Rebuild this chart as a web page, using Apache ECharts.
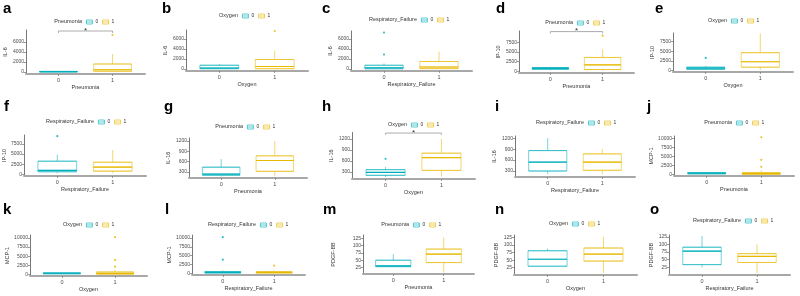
<!DOCTYPE html>
<html>
<head>
<meta charset="utf-8">
<script src="https://cdn.jsdelivr.net/npm/echarts@6/dist/echarts.min.js"></script>
<style>
  html, body { margin: 0; padding: 0; background: #fff; }
  #main { width: 800px; height: 296px; }
</style>
</head>
<body>
<div id="main"></div>
<script>
// ---- data ----
var panelLetters = ['a', 'b', 'c', 'd', 'e', 'f', 'g', 'h', 'i', 'j', 'k', 'l', 'm', 'n', 'o'];
var groupVars = ['Pneumonia', 'Oxygen', 'Respiratory_Failure'];
var markerNames = ['IL-6', 'IL-6', 'IL-6', 'IP-10', 'IP-10', 'IP-10', 'IL-16', 'IL-16', 'IL-16',
                   'MCP-1', 'MCP-1', 'MCP-1', 'PDGF-BB', 'PDGF-BB', 'PDGF-BB'];
var groupLevels = ['0', '1'];

// [min, Q1, median, Q3, max] for group 0 / group 1
var stats0 = [
  [0, 20, 60, 120, 250],
  [0, 60, 200, 750, 1000],
  [0, 50, 250, 750, 1100],
  [300, 550, 800, 1000, 1200],
  [150, 300, 600, 850, 1200],
  [300, 650, 980, 3250, 4900],
  [170, 205, 240, 440, 675],
  [165, 210, 290, 365, 435],
  [220, 300, 545, 860, 1200],
  [50, 200, 380, 500, 700],
  [100, 200, 350, 450, 600],
  [0, 150, 350, 550, 900],
  [27, 28, 31, 50, 71],
  [28, 30, 53, 81, 88],
  [25, 34, 78, 91, 128]
];
var stats1 = [
  [0, 150, 450, 1600, 3600],
  [0, 60, 500, 1900, 3700],
  [0, 80, 400, 1500, 3500],
  [100, 500, 1700, 3600, 5700],
  [100, 850, 2250, 4600, 9600],
  [300, 800, 1800, 3000, 6000],
  [190, 320, 635, 770, 1200],
  [180, 345, 695, 815, 1200],
  [210, 320, 545, 770, 900],
  [0, 100, 250, 550, 1200],
  [0, 100, 300, 700, 1300],
  [0, 150, 350, 500, 900],
  [8, 42, 71, 88, 128],
  [7, 47, 70, 90, 127],
  [6, 41, 61, 70, 100]
];
var outliers0 = [[], [], [7300, 2900], [], [3250], [9400], [], [660], [], [], [], [10200, 3900], [], [], []];
var outliers1 = [[7400], [7600], [], [9200], [], [], [], [], [], [10400, 4100, 2150], [10200, 4000, 2140], [2200], [], [], []];

var yTicks = [
  [0, 2000, 4000, 6000], [0, 2000, 4000, 6000], [0, 2000, 4000, 6000],
  [0, 2500, 5000, 7500], [0, 2500, 5000, 7500], [0, 2500, 5000, 7500],
  [300, 600, 900, 1200], [300, 600, 900, 1200], [300, 600, 900, 1200],
  [0, 2500, 5000, 7500, 10000], [0, 2500, 5000, 7500, 10000], [0, 2500, 5000, 7500, 10000],
  [25, 50, 75, 100, 125], [25, 50, 75, 100, 125], [25, 50, 75, 100, 125]
];
var yRanges = [
  [-400, 8400], [-400, 7800], [-400, 7600],
  [-400, 10400], [-400, 9700], [-400, 9700],
  [125, 1290], [110, 1380], [136, 1260],
  [-400, 10750], [-400, 10800], [-400, 10800],
  [3, 136], [1, 133], [0, 131]
];
// significance bracket: [bracket level, end-tick level]
var sigBrackets = [[8200, 7800], null, null, [10250, 9750], null, null, null, [1365, 1320], null,
                   null, null, null, null, null, null];
var sigLabel = '*';

// ---- layout (pixels) ----
// plot area edges: [left, top, right, bottom]
var plotBoxes = [
  [26, 30, 145, 74], [186, 30, 308, 71], [351, 31, 472, 71], [519, 31, 634, 73], [673, 33, 793, 72],
  [24, 135, 146, 176], [189, 138, 307, 178], [352, 132.5, 475, 179], [515, 136, 635, 177], [674, 136, 794, 176],
  [30, 235, 147, 276], [192, 235, 305, 275], [363, 235, 474, 274], [514, 235, 637, 275], [669, 235, 790, 275]
];
var letterPos = [
  [3, 1], [162, 1], [322, 1], [496, 1], [655, 1],
  [4, 99], [164, 99], [322, 99], [495, 99], [647, 99],
  [3, 202], [165, 202], [323, 202], [495, 202], [650, 202]
];
// legend: [x where title ends / keys start, center y]
var legendPos = [
  [84, 22], [240, 16], [419, 20], [575, 23], [729, 21],
  [96, 122], [245, 127], [409, 125], [586, 123], [734, 123],
  [84, 225], [258, 225], [411, 225], [570, 224], [743, 221]
];
var yNameGap = [15, 17, 17, 17, 14, 15, 16, 16, 16, 12, 18, 18, 27, 14, 14];

var colors = ['#00AFBB', '#E7B800'];
var edgeColors = ['rgba(0,175,187,0.55)', 'rgba(231,184,0,0.55)'];
var boxIcon = 'path://M0,0H12V8H0Z M0,4H12';
var fontFamily = '"Liberation Sans", Arial, sans-serif';

var chart = echarts.init(document.getElementById('main'));

var option = {
  animation: false,
  textStyle: { fontFamily: fontFamily },
  title: [],
  legend: [],
  grid: [],
  xAxis: [],
  yAxis: [],
  series: []
};

function segment(i, p, q, color, width, z) {
  return {
    type: 'line', xAxisIndex: i, yAxisIndex: i, silent: true, symbol: 'none', clip: false, z: z,
    lineStyle: { color: color, width: width },
    data: [p, q]
  };
}

for (var i = 0; i < 15; i++) {
  var pb = plotBoxes[i];
  option.grid.push({ left: pb[0], top: pb[1], width: pb[2] - pb[0], height: pb[3] - pb[1] });

  option.xAxis.push({
    gridIndex: i, type: 'value', min: -0.6, max: 1.6,
    name: groupVars[i % 3], nameLocation: 'middle', nameGap: 10,
    nameTextStyle: { fontSize: 5.5, color: '#333' },
    axisLine: { show: true, onZero: false, lineStyle: { color: '#a8a8a8', width: 2 } },
    axisTick: { show: true, customValues: [0, 1], length: 2, lineStyle: { color: '#666', width: 0.6 } },
    axisLabel: { customValues: [0, 1], fontSize: 5.5, color: '#4d4d4d', margin: 3,
                 formatter: function (v) { return String(v); } },
    splitLine: { show: false }
  });
  option.yAxis.push({
    gridIndex: i, type: 'value', min: yRanges[i][0], max: yRanges[i][1],
    name: markerNames[i], nameLocation: 'middle', nameGap: yNameGap[i], nameRotate: 90,
    nameTextStyle: { fontSize: 5.5, color: '#333' },
    axisLine: { show: true, onZero: false, lineStyle: { color: '#555', width: 0.8 } },
    axisTick: { show: true, customValues: yTicks[i], length: 2, lineStyle: { color: '#555', width: 0.6 } },
    axisLabel: { customValues: yTicks[i], fontSize: 5, color: '#4d4d4d', margin: 2,
                 formatter: function (v) { return String(v); } },
    splitLine: { show: false }
  });

  var s = [stats0[i], stats1[i]];
  var outs = [outliers0[i], outliers1[i]];

  // boxes (Q1..Q3; whiskers drawn separately so there are no end caps)
  option.series.push({
    type: 'boxplot', xAxisIndex: i, yAxisIndex: i, silent: true, z: 3,
    boxWidth: ['63.6%', '63.6%'],
    emphasis: { disabled: true },
    data: [0, 1].map(function (g) {
      var v = s[g];
      return { value: [g, v[1], v[1], v[2], v[3], v[3]],
               itemStyle: { color: '#fff', borderColor: edgeColors[g], borderWidth: 1 } };
    })
  });

  // whiskers
  [0, 1].forEach(function (g) {
    var v = s[g];
    option.series.push(segment(i, [g, v[0]], [g, v[1]], edgeColors[g], 1, 2));
    option.series.push(segment(i, [g, v[3]], [g, v[4]], edgeColors[g], 1, 2));
  });

  // outliers (also the legend entries)
  [0, 1].forEach(function (g) {
    option.series.push({
      type: 'scatter', name: groupLevels[g], xAxisIndex: i, yAxisIndex: i, silent: true, z: 5,
      symbolSize: 2.2, itemStyle: { color: colors[g] },
      data: outs[g].map(function (v) { return [g, v]; })
    });
  });

  // significance bracket with its label on the middle point
  if (sigBrackets[i]) {
    var b = sigBrackets[i];
    option.series.push({
      type: 'line', xAxisIndex: i, yAxisIndex: i, silent: true, clip: false, z: 6,
      symbol: 'circle', symbolSize: 0.1, showSymbol: true, showAllSymbol: true,
      itemStyle: { color: 'rgba(0,0,0,0)' },
      lineStyle: { color: '#8a8a8a', width: 0.7 },
      label: { show: false },
      data: [[0, b[0]],
             { value: [0.5, b[0]],
               label: { show: true, position: 'inside', offset: [0, -0.5], formatter: sigLabel,
                        fontSize: 8, color: '#333' } },
             [1, b[0]]]
    });
    option.series.push(segment(i, [0, b[1]], [0, b[0]], '#8a8a8a', 0.7, 4));
    option.series.push(segment(i, [1, b[1]], [1, b[0]], '#8a8a8a', 0.7, 4));
  }

  // letters
  option.title.push({
    text: panelLetters[i], left: letterPos[i][0], top: letterPos[i][1], padding: 0,
    textStyle: { fontSize: 15, fontWeight: 'bold', color: '#000', fontFamily: fontFamily }
  });
  // legend title
  option.title.push({
    text: groupVars[i % 3], right: 800 - (legendPos[i][0] - 2), top: legendPos[i][1] - 3.5, padding: 0,
    textStyle: { fontSize: 5.5, fontWeight: 'normal', color: '#333', fontFamily: fontFamily }
  });
  option.legend.push({
    left: legendPos[i][0] + 2, top: legendPos[i][1] - 2.5, padding: 0,
    itemWidth: 6, itemHeight: 4.5, itemGap: 4, selectedMode: false,
    textStyle: { fontSize: 5, color: '#333', padding: [0, 0, 0, -2] },
    data: [0, 1].map(function (g) {
      return { name: groupLevels[g], icon: boxIcon,
               itemStyle: { color: '#fff', borderColor: colors[g], borderWidth: 0.8 } };
    })
  });
}

// median lines: separate hidden x axes so they sit exactly on the boxes
for (var j = 0; j < 15; j++) {
  option.xAxis.push({ gridIndex: j, type: 'value', min: -0.6, max: 1.6, show: false });
  var sm = [stats0[j], stats1[j]];
  option.series.push({
    type: 'boxplot', xAxisIndex: 15 + j, yAxisIndex: j, silent: true, z: 4,
    boxWidth: ['63.6%', '63.6%'],
    emphasis: { disabled: true },
    data: [0, 1].map(function (g) {
      var m = sm[g][2];
      return { value: [g, m, m, m, m, m],
               itemStyle: { color: 'rgba(0,0,0,0)', borderColor: colors[g], borderWidth: 1.2 } };
    })
  });
}

chart.setOption(option);
</script>
</body>
</html>
